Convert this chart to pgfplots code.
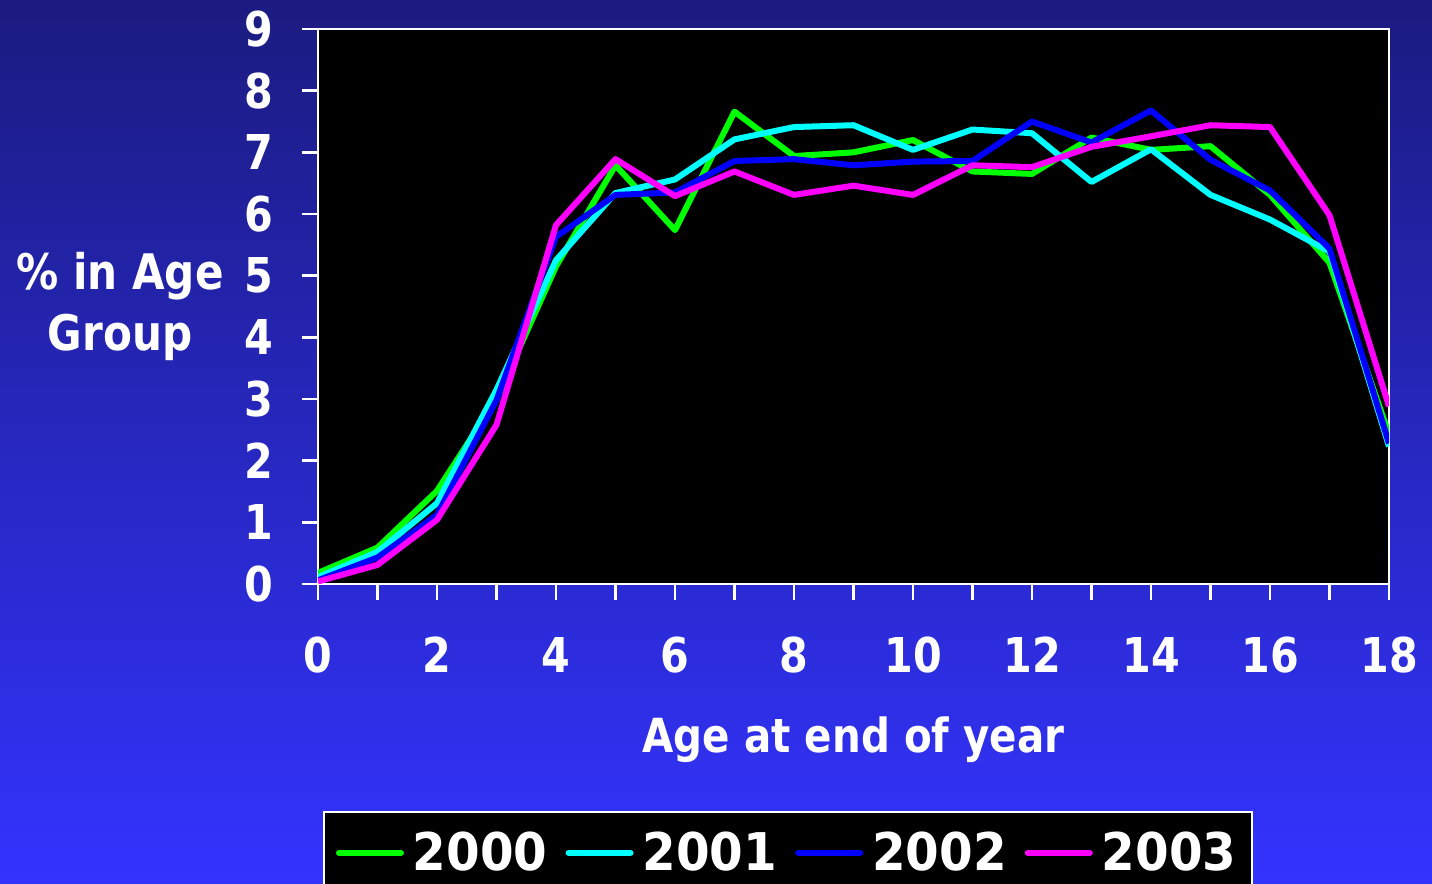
\documentclass[border=0pt]{standalone}
\usepackage{pgfplots}
\pgfplotsset{compat=1.18}
\usepackage{fontspec}
\setmainfont{DejaVu Sans}[FakeStretch=0.86]
\newfontfamily\legfont{DejaVu Sans}[FakeStretch=0.93]
\definecolor{bgtop}{RGB}{27,27,128}
\definecolor{bgbot}{RGB}{51,51,255}
\definecolor{sgreen}{RGB}{0,255,0}
\definecolor{scyan}{RGB}{0,255,255}
\definecolor{sblue}{RGB}{0,0,255}
\definecolor{smag}{RGB}{255,0,255}
\begin{document}
\begin{tikzpicture}
\shade[top color=bgtop, bottom color=bgbot] (0,0) rectangle (716pt,442pt);
\begin{axis}[
  at={(159pt,150pt)}, anchor=south west,
  width=535.5pt, height=277.5pt, scale only axis,
  xmin=0, xmax=18, ymin=0, ymax=9,
  axis background/.style={fill=black},
  axis line style={white, line width=1.25pt},
  tick style={white, line width=1.25pt},
  tick align=outside, major tick length=8pt, minor tick length=8pt,
  xtick={0,2,...,18}, minor xtick={1,3,...,17},
  ytick={0,...,9},
  xtick pos=bottom, ytick pos=left,
  /pgf/number format/assume math mode=true,
  ticklabel style={font=\fontsize{24}{28}\selectfont\bfseries, text=white},
  xticklabel style={anchor=base, yshift=-36.5pt},
  yticklabel style={anchor=east, inner sep=0pt, xshift=-14pt},
  xlabel={Age at end of year},
  xlabel style={at={(rel axis cs:0.5,0)}, anchor=base, yshift=-84.5pt,
    font=\fontsize{23.5}{28}\selectfont\bfseries, text=white},
  ylabel={\% in Age\\Group},
  ylabel style={at={(rel axis cs:0,0.5)}, rotate=-90, anchor=center, xshift=-99pt,
    align=center, font=\fontsize{24.5}{30.5}\selectfont\bfseries, text=white},
  legend columns=4,
  legend image code/.code={\draw[#1, line width=3pt, line cap=round] (0pt,0pt) -- (31pt,0pt);\path (33.5pt,0pt);},
  legend style={at={(rel axis cs:0,0)}, anchor=north west, xshift=2.5pt, yshift=-113.5pt,
    draw=white, fill=black, line width=1pt, text=white,
    font=\fontsize{26}{30}\legfont\bfseries,
    inner xsep=6pt, inner ysep=8pt,
    /tikz/every even column/.append style={column sep=7pt}},
  every axis plot/.append style={line width=3pt, line join=round},
]
\addplot[sgreen] coordinates {(0,0.18)(1,0.59)(2,1.51)(3,3.0)(4,5.15)(5,6.79)(6,5.74)(7,7.66)(8,6.94)(9,7.0)(10,7.2)(11,6.69)(12,6.65)(13,7.24)(14,7.04)(15,7.1)(16,6.31)(17,5.21)(18,2.43)};
\addlegendentry{2000}
\addplot[scyan] coordinates {(0,0.11)(1,0.52)(2,1.31)(3,3.15)(4,5.25)(5,6.34)(6,6.56)(7,7.21)(8,7.41)(9,7.44)(10,7.04)(11,7.37)(12,7.31)(13,6.52)(14,7.05)(15,6.31)(16,5.91)(17,5.39)(18,2.23)};
\addlegendentry{2001}
\addplot[sblue] coordinates {(0,0.06)(1,0.43)(2,1.12)(3,2.98)(4,5.63)(5,6.31)(6,6.35)(7,6.86)(8,6.89)(9,6.79)(10,6.85)(11,6.86)(12,7.5)(13,7.16)(14,7.68)(15,6.88)(16,6.38)(17,5.44)(18,2.28)};
\addlegendentry{2002}
\addplot[smag] coordinates {(0,0.04)(1,0.31)(2,1.04)(3,2.58)(4,5.82)(5,6.89)(6,6.29)(7,6.69)(8,6.31)(9,6.46)(10,6.31)(11,6.79)(12,6.76)(13,7.09)(14,7.26)(15,7.44)(16,7.41)(17,5.98)(18,2.88)};
\addlegendentry{2003}
\end{axis}
\pgfresetboundingbox
\useasboundingbox (0,0) rectangle (716pt,442pt);
\end{tikzpicture}
\end{document}
